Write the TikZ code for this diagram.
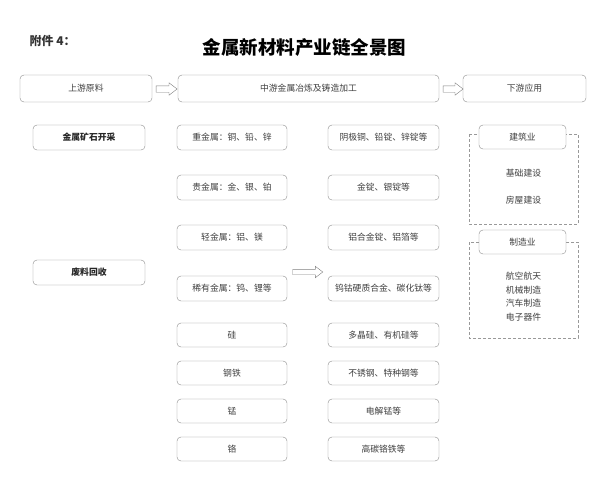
\documentclass[tikz,border=0pt]{standalone}
\usepackage{fontspec}
\setmainfont{Noto Sans CJK SC}
\usetikzlibrary{shapes.arrows,positioning}

\begin{document}
\begin{tikzpicture}[
x=1pt, y=-1pt,
font=\fontsize{8.8}{10}\selectfont,
stage/.style={draw=black!45, rounded corners=4pt, minimum height=27pt, inner sep=0pt, text=black!75},
item/.style={draw=black!45, rounded corners=4pt, minimum height=25pt, inner sep=0pt, text=black!75, fill=white},
hollow/.style={single arrow, draw=black!50, fill=white, inner sep=0pt, single arrow head extend=3pt, single arrow tip angle=75},
group/.style={draw=black!40, dash pattern=on 3pt off 2pt}
]
    % Background and frame
    \path[fill=white] (0,0) rectangle (606,485);
    \useasboundingbox (0,0) rectangle (606,485);

    % Heading
    \node[anchor=west, font=\fontsize{12}{12}\selectfont\bfseries, text=black!80] (annex) at (26,41) {附件 4：};
    \node[font=\fontsize{18.5}{20}\selectfont\bfseries] (title) at (304.5,47) {金属新材料产业链全景图};

    % Stages
    \node[stage, minimum width=132pt] (up) at (86,88.5) {上游原料};
    \node[stage, minimum width=261pt] (mid) at (308.5,88.5) {中游金属冶炼及铸造加工};
    \node[stage, minimum width=123pt] (down) at (524.5,88.5) {下游应用};
    \node[hollow, minimum height=21pt] (ar1) at (164.5,89) {\rule{0pt}{6pt}};
    \node[hollow, minimum height=20pt] (ar2) at (451,89) {\rule{0pt}{6pt}};

    % Upstream
    \node[item, minimum width=112pt, font=\fontsize{8.8}{10}\selectfont\bfseries, text=black!85] (mine) at (89,137.5) {金属矿石开采};
    \node[item, minimum width=112pt, font=\fontsize{8.8}{10}\selectfont\bfseries, text=black!85] (scrap) at (89,272.5) {废料回收};

    % Metals
    \node[item, minimum width=110pt] (heavy) at (232,137.5) {重金属：铜、铅、锌};
    \node[item, minimum width=110pt] (precious) at (232,187.5) {贵金属：金、银、铂};
    \node[item, minimum width=110pt] (light) at (232,237.5) {轻金属：铝、镁};
    \node[item, minimum width=110pt] (rare) at (232,288.5) {稀有金属：钨、锂等};
    \node[item, minimum width=110pt, minimum height=24pt] (si) at (232,335) {硅};
    \node[item, minimum width=110pt, minimum height=24pt] (steel) at (232,373) {钢铁};
    \node[item, minimum width=110pt, minimum height=24pt] (mn) at (232,411) {锰};
    \node[item, minimum width=110pt, minimum height=24pt] (cr) at (232,449) {铬};

    \node[hollow, minimum height=30pt] (ar3) at (306,272) {\rule{0pt}{5pt}};

    % Products
    \node[item, minimum width=111pt] (heavyp) at (383.5,137.5) {阴极铜、铅锭、锌锭等};
    \node[item, minimum width=111pt] (preciousp) at (383.5,187.5) {金锭、银锭等};
    \node[item, minimum width=111pt] (lightp) at (383.5,237.5) {铝合金锭、铝箔等};
    \node[item, minimum width=111pt] (rarep) at (383.5,288.5) {钨钴硬质合金、碳化钛等};
    \node[item, minimum width=111pt, minimum height=24pt] (sip) at (383.5,335) {多晶硅、有机硅等};
    \node[item, minimum width=111pt, minimum height=24pt] (steelp) at (383.5,373) {不锈钢、特种钢等};
    \node[item, minimum width=111pt, minimum height=24pt] (mnp) at (383.5,411) {电解锰等};
    \node[item, minimum width=111pt, minimum height=24pt] (crp) at (383.5,449) {高碳铬铁等};

    % Downstream
    \draw[group] (469,134) rectangle (578,224);
    \draw[group] (469,242) rectangle (578,338);
    \node[item, minimum width=87pt, minimum height=24pt] (build) at (522.5,137) {建筑业};
    \node[item, minimum width=87pt, minimum height=24pt] (make) at (522.5,242) {制造业};
    \node[text=black!75] (infra) at (523.5,173) {基础建设};
    \node[text=black!75] (house) at (523.5,200) {房屋建设};
    \node[text=black!75, align=center, font=\fontsize{8.8}{13.7}\selectfont] (mfg) at (523.5,296.5) {航空航天\\机械制造\\汽车制造\\电子器件};

\end{tikzpicture}
\end{document}
